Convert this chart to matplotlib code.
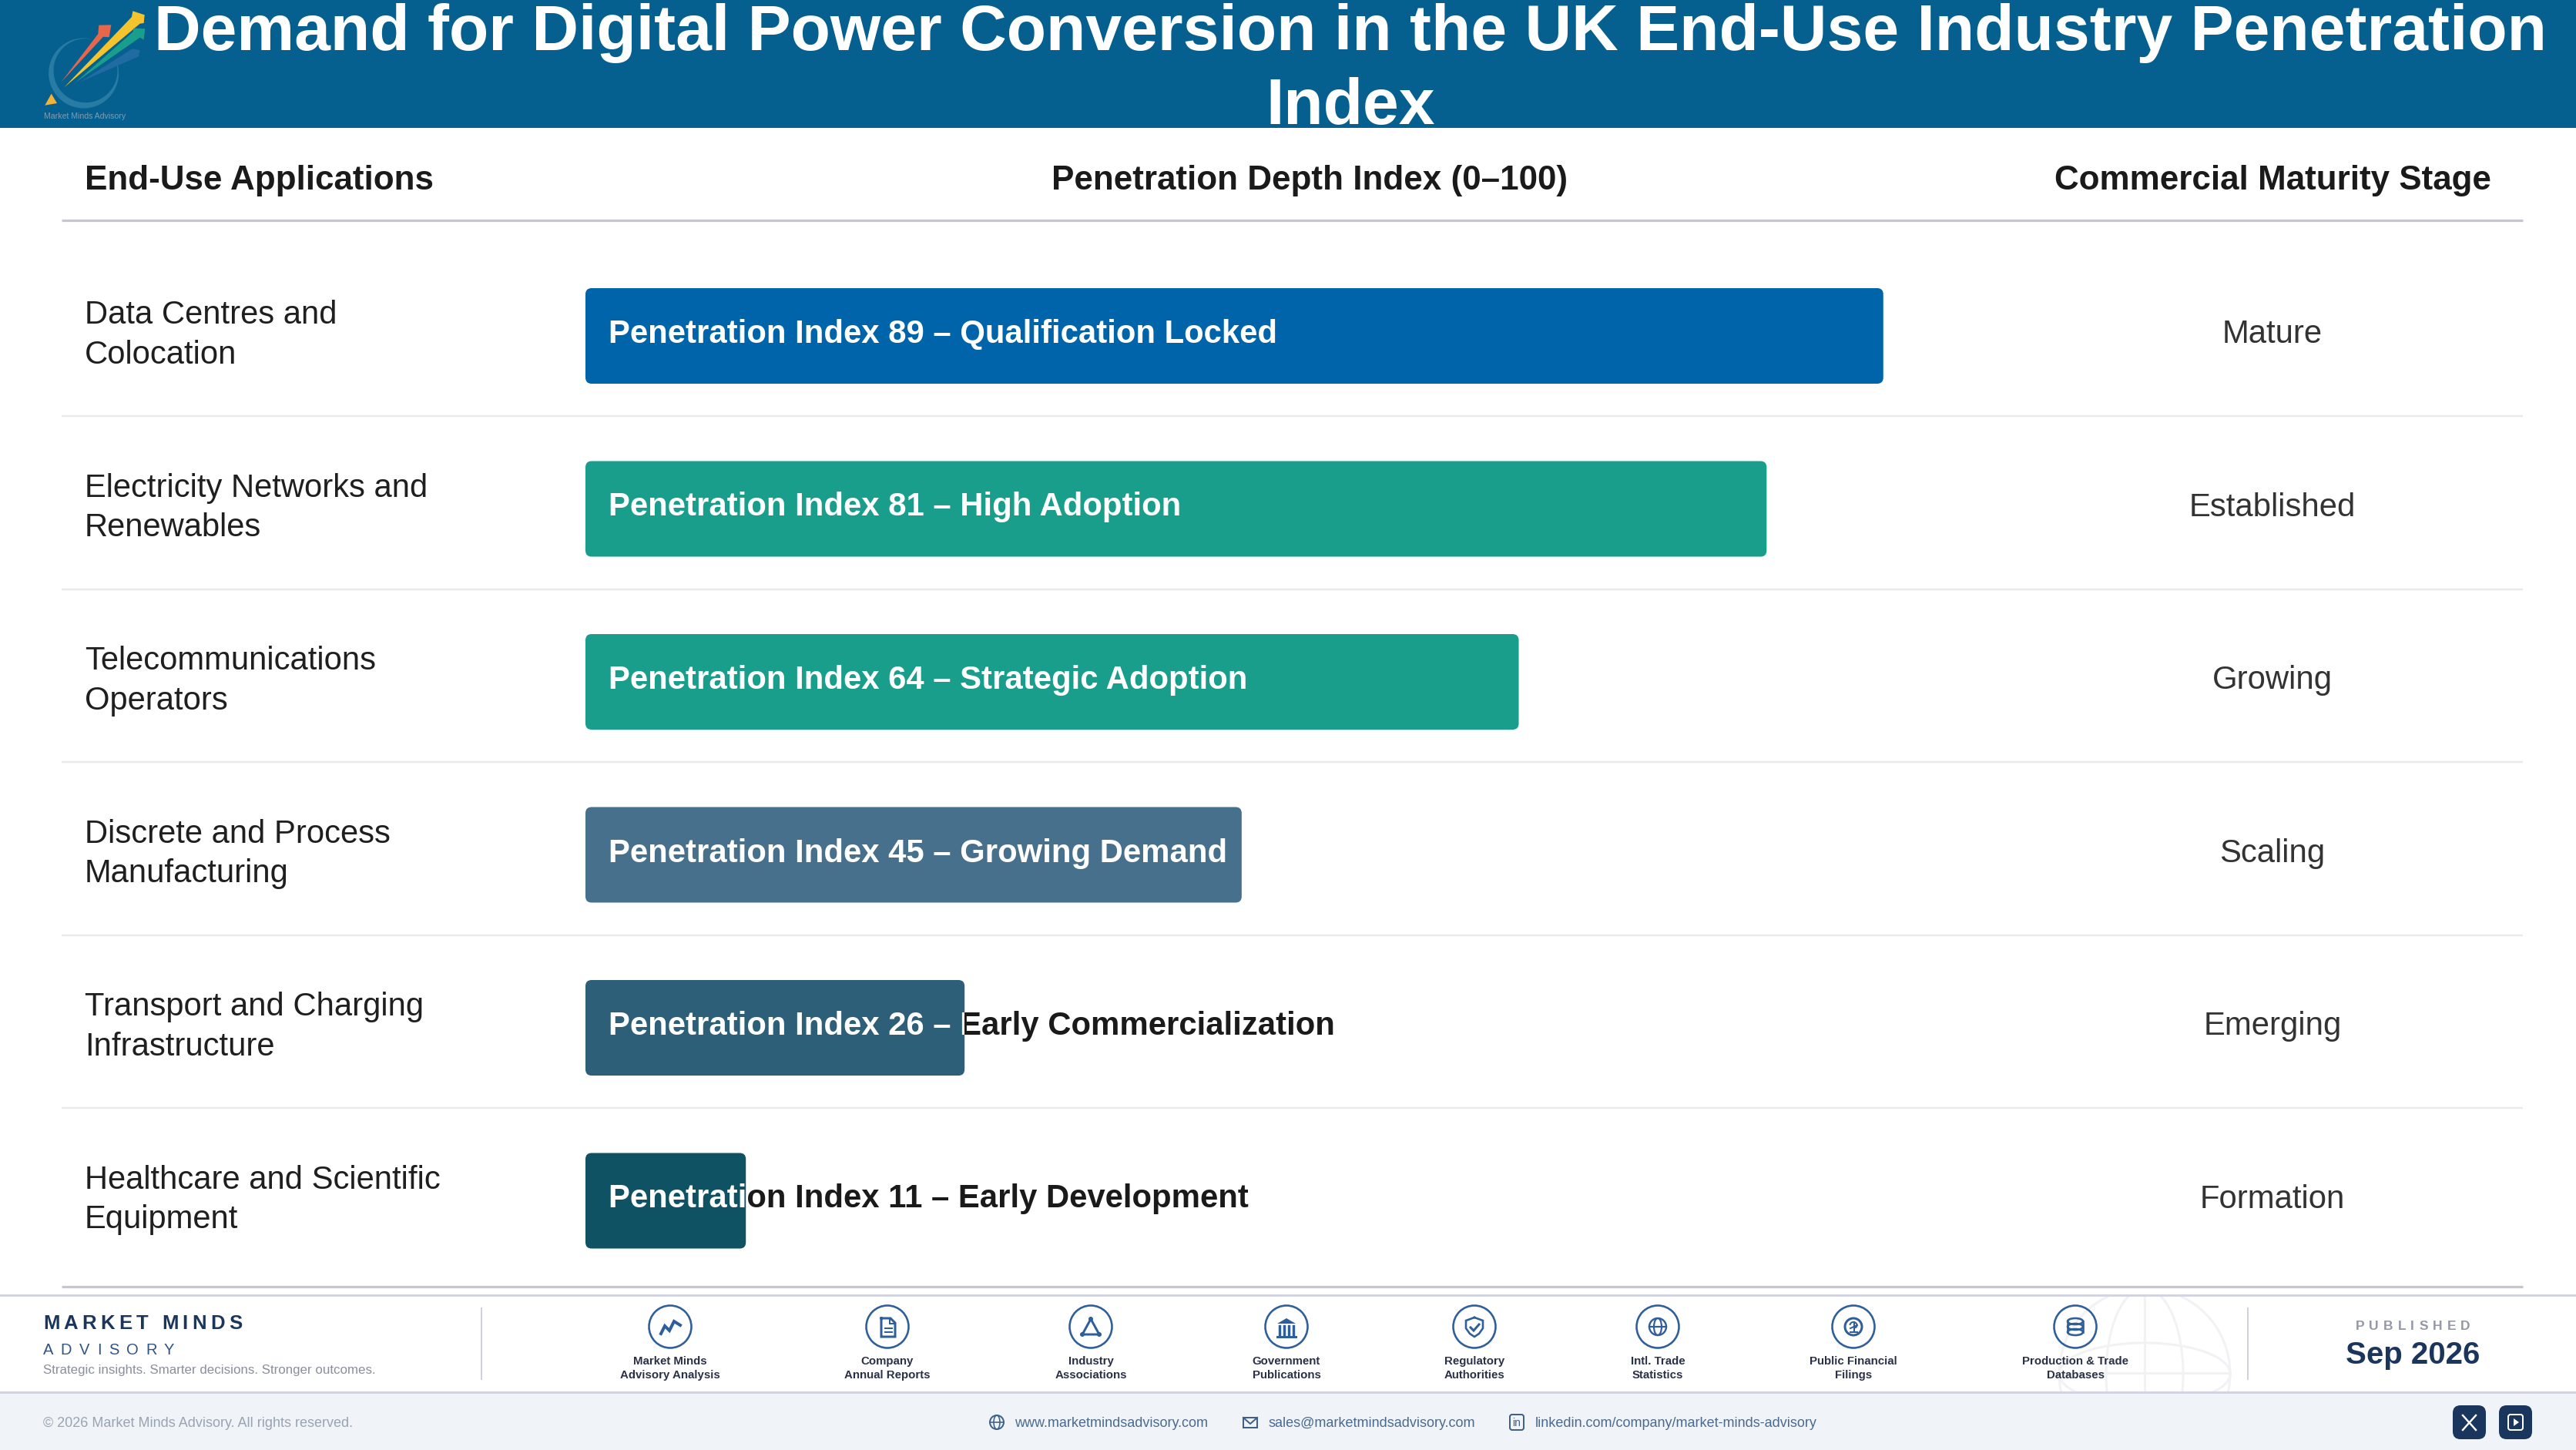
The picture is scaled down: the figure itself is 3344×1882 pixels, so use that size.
import numpy as np
import matplotlib
matplotlib.use("Agg")
import matplotlib.pyplot as plt
from matplotlib.patches import Rectangle, FancyBboxPatch, Circle, Ellipse, Polygon, Arc
from matplotlib.text import Text
from matplotlib.transforms import Bbox, TransformedBbox

plt.rcParams['font.family'] = ['Liberation Sans', 'DejaVu Sans']

TITLE = "Demand for Digital Power Conversion in the UK End-Use Industry Penetration\nIndex"
HEADERS = ["End-Use Applications", "Penetration Depth Index (0–100)", "Commercial Maturity Stage"]
applications = ["Data Centres and\nColocation", "Electricity Networks and\nRenewables",
                "Telecommunications\nOperators", "Discrete and Process\nManufacturing",
                "Transport and Charging\nInfrastructure", "Healthcare and Scientific\nEquipment"]
index_values = [89, 81, 64, 45, 26, 11]
bar_notes = ["Qualification Locked", "High Adoption", "Strategic Adoption",
             "Growing Demand", "Early Commercialization", "Early Development"]
stages = ["Mature", "Established", "Growing", "Scaling", "Emerging", "Formation"]
bar_colors = ["#0064AA", "#1A9E8C", "#1A9E8C", "#47708C", "#2D5F78", "#0F5263"]
sources = ["Market Minds\nAdvisory Analysis", "Company\nAnnual Reports", "Industry\nAssociations",
           "Government\nPublications", "Regulatory\nAuthorities", "Intl. Trade\nStatistics",
           "Public Financial\nFilings", "Production & Trade\nDatabases"]
source_x = [870, 1152, 1416, 1670, 1914, 2152, 2406, 2694]

W, H = 3344, 1882
NAVY = "#1B365D"
ICON = "#2F5F9A"
px = 0.72  # points per pixel at dpi 100

fig = plt.figure(figsize=(W / 100, H / 100), dpi=100, facecolor="white")
ov = fig.add_axes([0, 0, 1, 1], zorder=1)
ov.set_xlim(0, W)
ov.set_ylim(H, 0)
ov.axis("off")


class SpacedText(Text):
    """One text string drawn with letter spacing so it spans a target width."""
    def __init__(self, x, y, text, target=None, **kw):
        super().__init__(x, y, text, **kw)
        self.target = target

    def draw(self, renderer):
        s = self.get_text()
        fp = self.get_fontproperties()
        natural = renderer.get_text_width_height_descent(s, fp, False)[0]
        gap = (self.target - natural) / (len(s) - 1)
        x, y = self.get_position()
        if self.get_ha() == "center":
            x -= self.target / 2
        for i, ch in enumerate(s):
            adv = renderer.get_text_width_height_descent(s[:i], fp, False)[0] if i else 0
            t = Text(x + adv + gap * i, y, ch, fontproperties=fp, color=self.get_color(),
                     va=self.get_va(), ha="left", transform=self.get_transform())
            t.set_figure(self.get_figure())
            t.draw(renderer)


def sp(x, y, s, target, **kw):
    ov.add_artist(SpacedText(x, y, s, target=target, transform=ov.transData, **kw))


# backgrounds
ov.add_patch(Rectangle((0, 0), W, 166, fc="#05608F", ec="none"))
ov.add_patch(Rectangle((0, 1807), W, 75, fc="#F0F4F9", ec="none"))

# title
ov.text(1753, 4, TITLE, color="white", fontsize=60.5, fontweight="bold", ha="center",
        va="top", linespacing=1.29, zorder=5)

# logo
def z(x, y):
    return (40 + x / 3, y / 3)

th = np.radians(np.linspace(80, 372, 90))
outer = np.c_[40 + 206 / 3 + 45.5 * np.cos(th), 285 / 3 - 45.5 * np.sin(th)]
inner = np.c_[40 + 213 / 3 + 41.5 * np.cos(th), 275 / 3 - 41.5 * np.sin(th)][::-1]
ov.add_patch(Polygon(np.r_[outer, inner], fc="#2C7FA6", ec="none", alpha=0.9))
ov.add_patch(Polygon([z(190, 320), z(395, 190), z(425, 195), z(420, 220)], fc="#1F6BA2", ec="none"))
ov.add_patch(Polygon([z(118, 320), z(262, 132), z(265, 98), z(313, 97), z(305, 145), z(282, 143)], fc="#E8674A", ec="none"))
ov.add_patch(Polygon([z(130, 340), z(393, 66), z(397, 43), z(443, 58), z(440, 90), z(425, 92)], fc="#F5C42C", ec="none"))
ov.add_patch(Polygon([z(175, 320), z(398, 124), z(400, 110), z(445, 112), z(440, 155), z(425, 146)], fc="#1A9E8C", ec="none"))
ov.add_patch(Polygon([z(80, 365), z(102, 402), z(55, 410)], fc="#F5B335", ec="none"))
ov.text(110, 151, "Market Minds Advisory", color="#7E9DB5", fontsize=7.6, ha="center", va="center")

# table header
ov.text(110, 234, HEADERS[0], color="#1A1A1A", fontsize=31.7, fontweight="bold", ha="left", va="center")
ov.text(1700, 234, HEADERS[1], color="#1A1A1A", fontsize=31.7, fontweight="bold", ha="center", va="center")
ov.text(2950, 234, HEADERS[2], color="#1A1A1A", fontsize=31.7, fontweight="bold", ha="center", va="center")
ov.plot([80, 3275], [285.5, 285.5], color="#C6C6D2", lw=3.2 * px, solid_capstyle="butt")

# rows
row_pitch = 224.5
for i in range(5):
    yy = 540 + row_pitch * i
    ov.plot([80, 3275], [yy, yy], color="#EAEAEA", lw=2.4 * px, solid_capstyle="butt")
ov.plot([80, 3275], [1670, 1670], color="#C6C6D2", lw=3.2 * px, solid_capstyle="butt")

for i, (a, s) in enumerate(zip(applications, stages)):
    yc = 436 + row_pitch * i
    ov.text(110, yc - 1, a, color="#1F1F1F", fontsize=30.1, ha="left", va="center", linespacing=1.38)
    ov.text(2950, yc - 2, s, color="#333333", fontsize=30.2, ha="center", va="center")

# bars: x axis 0-100, one y unit per row
ax = fig.add_axes([760 / W, 1 - (436 + 5.5 * row_pitch) / H, 1893 / W, 6 * row_pitch / H], zorder=2)
ax.set_xlim(0, 100)
ax.set_ylim(5.5, -0.5)
ax.axis("off")
ux, uy = 18.93, row_pitch
bar_h = 124 / uy
r = 8 / ux
label_dy = -2 / uy
for i, (v, note, c) in enumerate(zip(index_values, bar_notes, bar_colors)):
    ax.add_patch(FancyBboxPatch((0, i - bar_h / 2), v, bar_h,
                                boxstyle=f"round,pad=0,rounding_size={r}",
                                mutation_aspect=ux / uy, fc=c, ec="none", zorder=2))
    label = f"Penetration Index {v} – {note}"
    inside = TransformedBbox(Bbox([[0, i - 0.5], [v, i + 0.5]]), ax.transData)
    outside = TransformedBbox(Bbox([[v, i - 0.5], [100, i + 0.5]]), ax.transData)
    for col, box in (("white", inside), ("#1A1A1A", outside)):
        t = ax.text(30 / ux, i + label_dy, label, color=col, fontsize=30.2, fontweight="bold",
                    ha="left", va="center", zorder=3)
        t.set_clip_box(box)
        t.set_clip_on(True)

# footer frame
ov.plot([0, W], [1681, 1681], color="#D2D4E2", lw=3 * px)
ov.plot([0, W], [1807, 1807], color="#D2D4E2", lw=3 * px)

# globe watermark
clip = Rectangle((2600, 1682), 400, 124, transform=ov.transData)
wm = dict(fc="none", ec="#F2F2F5", lw=3 * px, zorder=0.5)
for art in [Circle((2784, 1783), 111, **wm), Ellipse((2784, 1783), 100, 222, **wm),
            Ellipse((2784, 1783), 222, 80, **wm)]:
    ov.add_patch(art)
    art.set_clip_path(clip)
ov.plot([2673, 2895], [1782, 1782], color="#F2F2F5", lw=3 * px, zorder=0.5)
ov.plot([2784, 2784], [1682, 1806], color="#F2F2F5", lw=3 * px, zorder=0.5)

ov.plot([624.5, 624.5], [1698, 1790], color="#CFD2DE", lw=2 * px)
ov.plot([2918, 2918], [1698, 1790], color="#CFD2DE", lw=2 * px)

# brand block
sp(56, 1718, "MARKET MINDS", 258, color=NAVY, fontsize=18.5, fontweight="bold", ha="left", va="center")
sp(56, 1752, "ADVISORY", 170, color="#2F5487", fontsize=14.5, ha="left", va="center")
ov.text(56, 1779, "Strategic insights. Smarter decisions. Stronger outcomes.", color="#8A8F9C",
        fontsize=12.2, ha="left", va="center")

# published block
sp(3132, 1722, "PUBLISHED", 149, color="#9498A6", fontsize=12.5, fontweight="bold", ha="center", va="center")
ov.text(3132, 1759, "Sep 2026", color=NAVY, fontsize=29, fontweight="bold", ha="center", va="center")


# source icons
def L(cx, cy, pts, lw=3, fill=False, **kw):
    p = np.array(pts, float) + [cx, cy]
    if fill:
        ov.add_patch(Polygon(p, fc=ICON, ec="none"))
    else:
        ov.plot(p[:, 0], p[:, 1], color=ICON, lw=lw * px, solid_joinstyle="miter", **kw)


def ring(cx, cy, r_, lw=2.6):
    ov.add_patch(Circle((cx, cy), r_, fc="none", ec=ICON, lw=lw * px))


CY = 1722
for cx, s in zip(source_x, sources):
    ring(cx, CY, 27.5)
    ov.text(cx, 1776, s, color="#2A3045", fontsize=10.8, fontweight="bold", ha="center",
            va="center", linespacing=1.32)

c = source_x[0]
L(c, CY, [(-12, 9), (-7, -1), (-1, 5), (5, -7), (13, -2)], lw=4)
c = source_x[1]
L(c, CY, [(-8, -11), (4, -11), (10, -5), (10, 13), (-8, 13), (-8, -11)], lw=3)
L(c, CY, [(3, -11), (3, -4), (10, -4)], lw=2)
L(c, CY, [(-3, 2), (6, 2)], lw=2)
L(c, CY, [(-3, 7), (6, 7)], lw=2)
c = source_x[2]
L(c, CY, [(0, -10), (-11, 10), (11, 10), (0, -10)], lw=3)
for dx, dy in [(0, -10), (-11, 10), (11, 10)]:
    ov.add_patch(Circle((c + dx, CY + dy), 3, fc=ICON, ec="none"))
c = source_x[3]
L(c, CY, [(-12, -4), (0, -11), (12, -4)], fill=True)
for dx in (-9, -3, 3, 9):
    L(c, CY, [(dx, -1), (dx, 10)], lw=3.4)
L(c, CY, [(-12, 13), (12, 13)], lw=3)
c = source_x[4]
L(c, CY, [(0, -12), (11, -8), (11, 2), (6, 9), (0, 13), (-6, 9), (-11, 2), (-11, -8), (0, -12)], lw=2.6)
L(c, CY, [(-5, 1), (-1, 5), (6, -3)], lw=3)
c = source_x[5]
ring(c, CY, 11, 2.4)
ov.add_patch(Ellipse((c, CY), 10, 22, fc="none", ec=ICON, lw=2.2 * px))
L(c, CY, [(-11, 0), (11, 0)], lw=2.2)
c = source_x[6]
ring(c, CY, 11, 3)
ov.add_patch(Arc((c, CY - 2), 9, 8, theta1=180, theta2=60, ec=ICON, lw=2 * px))
L(c, CY, [(1, -6), (1, 6)], lw=2)
L(c, CY, [(-4, 7), (5, 7)], lw=2)
L(c, CY, [(-4, 2), (5, -2)], lw=2)
c = source_x[7]
for dy in (-7, 0, 7):
    ov.add_patch(Ellipse((c, CY + dy), 20, 8, fc="none", ec=ICON, lw=2.6 * px))
L(c, CY, [(-10, -7), (-10, 7)], lw=2.6)
L(c, CY, [(10, -7), (10, 7)], lw=2.6)

# bottom strip
ov.text(56, 1848, "© 2026 Market Minds Advisory. All rights reserved.", color="#9AA3B2",
        fontsize=13, ha="left", va="center")
ov.text(1317.5, 1848, "www.marketmindsadvisory.com", color="#4A6A8F", fontsize=13, ha="left", va="center")
ov.text(1646.7, 1848, "sales@marketmindsadvisory.com", color="#4A6A8F", fontsize=13, ha="left", va="center")
ov.text(1992.6, 1848, "linkedin.com/company/market-minds-advisory", color="#4A6A8F", fontsize=13, ha="left", va="center")

LINK = "#3F6189"
ov.add_patch(Circle((1294, 1846), 9, fc="none", ec=LINK, lw=2 * px))
ov.add_patch(Ellipse((1294, 1846), 8, 18, fc="none", ec=LINK, lw=1.6 * px))
ov.plot([1285, 1303], [1846, 1846], color=LINK, lw=1.6 * px)
ov.add_patch(Rectangle((1614, 1840), 18, 13, fc="none", ec=LINK, lw=2 * px))
ov.plot([1614, 1623, 1632], [1840, 1848, 1840], color=LINK, lw=2 * px)
ov.add_patch(FancyBboxPatch((1960, 1836), 18, 20, boxstyle="round,pad=0,rounding_size=3", fc="none", ec=LINK, lw=2 * px))
ov.text(1969, 1847, "in", color=LINK, fontsize=10, ha="center", va="center")

for x0 in (3184, 3244):
    ov.add_patch(FancyBboxPatch((x0, 1824), 43, 44, boxstyle="round,pad=0,rounding_size=10", fc=NAVY, ec="none"))
ov.plot([3197, 3214], [1837, 1856], color="white", lw=2.4 * px)
ov.plot([3214, 3197], [1837, 1856], color="white", lw=2.4 * px)
ov.add_patch(FancyBboxPatch((3256, 1836), 19, 20, boxstyle="round,pad=0,rounding_size=3", fc="none", ec="white", lw=2 * px))
ov.add_patch(Polygon([(3263, 1841), (3263, 1851), (3270, 1846)], fc="white", ec="none"))

fig.savefig("out.png", dpi=100, facecolor="white")
